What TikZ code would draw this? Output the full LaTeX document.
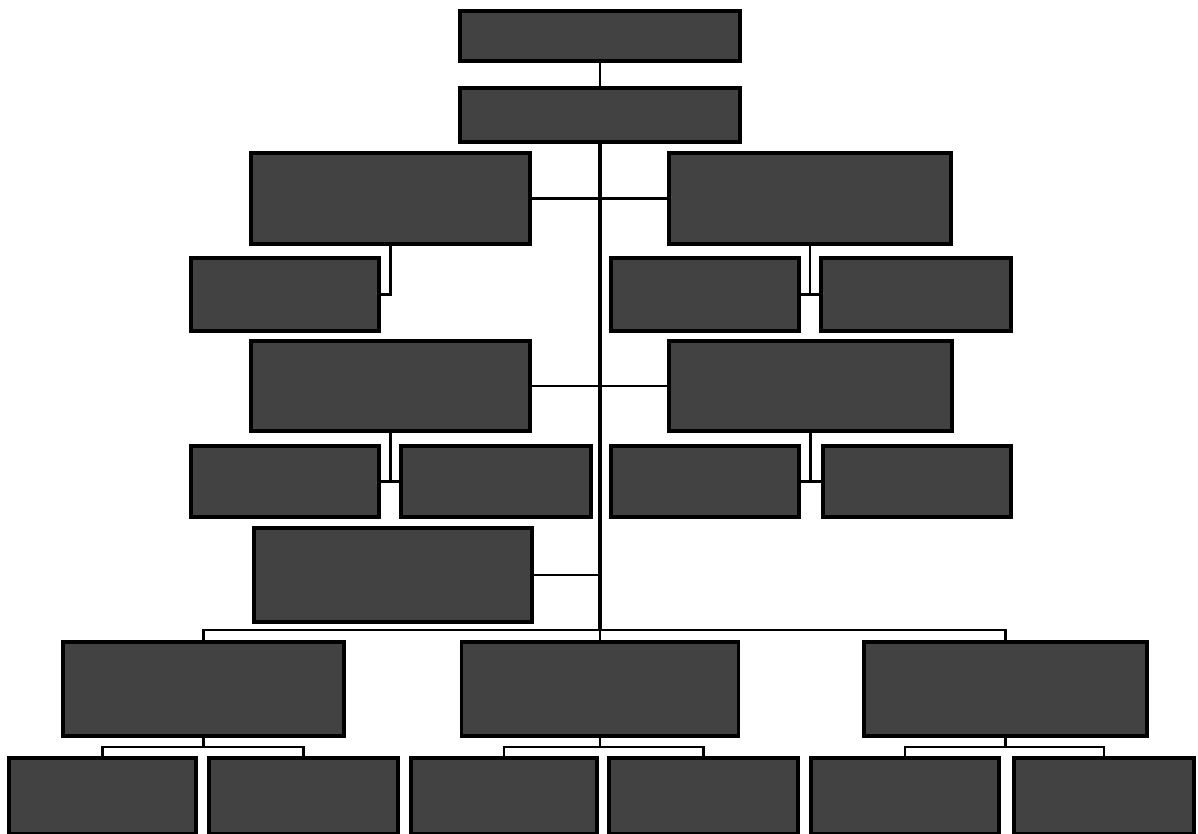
\documentclass[tikz,border=0pt]{standalone}
\usetikzlibrary{calc}
\begin{document}
\begin{tikzpicture}[x=1pt,y=-1pt,
  box/.style={draw=black,line width=3.5pt,fill=black!74,inner sep=0pt,outer sep=0pt},
  link/.style={draw=black,line width=2.8pt},
  trunk/.style={draw=black,line width=3.8pt}]
\useasboundingbox (0,0) rectangle (1198,833);
% nodes
\node[box,minimum width=280pt,minimum height=50pt] (top) at (600,36) {};
\node[box,minimum width=280pt,minimum height=54pt] (ceo) at (600,115) {};
\node[box,minimum width=279pt,minimum height=91pt] (L1) at (390.5,198.5) {};
\node[box,minimum width=282pt,minimum height=91pt] (R1) at (810,198.5) {};
\node[box,minimum width=188pt,minimum height=73pt] (Ls) at (285,294.5) {};
\node[box,minimum width=188pt,minimum height=73pt] (Ra) at (705,294.5) {};
\node[box,minimum width=190pt,minimum height=73pt] (Rb) at (916,294.5) {};
\node[box,minimum width=279pt,minimum height=90pt] (L2) at (390.5,386) {};
\node[box,minimum width=283pt,minimum height=90pt] (R2) at (810.5,386) {};
\node[box,minimum width=188pt,minimum height=71pt] (L2a) at (285,481.5) {};
\node[box,minimum width=190pt,minimum height=71pt] (L2b) at (496,481.5) {};
\node[box,minimum width=188pt,minimum height=71pt] (R2a) at (705,481.5) {};
\node[box,minimum width=188pt,minimum height=71pt] (R2b) at (917,481.5) {};
\node[box,minimum width=278pt,minimum height=94pt] (L3) at (393,575) {};
\node[box,minimum width=281pt,minimum height=94pt] (B1) at (203.5,689) {};
\node[box,minimum width=277pt,minimum height=94pt] (B2) at (600,689) {};
\node[box,minimum width=283pt,minimum height=94pt] (B3) at (1005.5,689) {};
\node[box,minimum width=187pt,minimum height=76pt] (B1a) at (102.5,796) {};
\node[box,minimum width=189pt,minimum height=76pt] (B1b) at (303.5,796) {};
\node[box,minimum width=186pt,minimum height=76pt] (B2a) at (504,796) {};
\node[box,minimum width=189pt,minimum height=76pt] (B2b) at (703.5,796) {};
\node[box,minimum width=188pt,minimum height=76pt] (B3a) at (905,796) {};
\node[box,minimum width=180pt,minimum height=76pt] (B3b) at (1104,796) {};
% coordinates
\coordinate (bus) at (600,630);
\coordinate (b1) at (203.5,747);
\coordinate (b2) at (600,747);
\coordinate (b3) at (1005.5,747);
% connectors
\draw[link] (top) -- (ceo);
\draw[trunk] (ceo.south) -- (bus);
\draw[link] (L1.east) -- (R1.west);
\draw[link] (L1.south) |- (Ls.east);
\draw[link] (R1.south) |- (Ra.east);
\draw[link] (R1.south) |- (Rb.west);
\draw[link] (L2.east) -- (R2.west);
\draw[link] (L2.south) |- (L2a.east);
\draw[link] (L2.south) |- (L2b.west);
\draw[link] (R2.south) |- (R2a.east);
\draw[link] (R2.south) |- (R2b.west);
\draw[link] (L3.east) -- (L3.east -| bus);
\draw[link] (B1.north) |- (bus) -| (B3.north);
\draw[link] (bus) -- (B2.north);
\draw[link] (B1.south) -- (b1);
\draw[link] (B1a.north) |- (b1) -| (B1b.north);
\draw[link] (B2.south) -- (b2);
\draw[link] (B2a.north) |- (b2) -| (B2b.north);
\draw[link] (B3.south) -- (b3);
\draw[link] (B3a.north) |- (b3) -| (B3b.north);
\end{tikzpicture}
\end{document}
